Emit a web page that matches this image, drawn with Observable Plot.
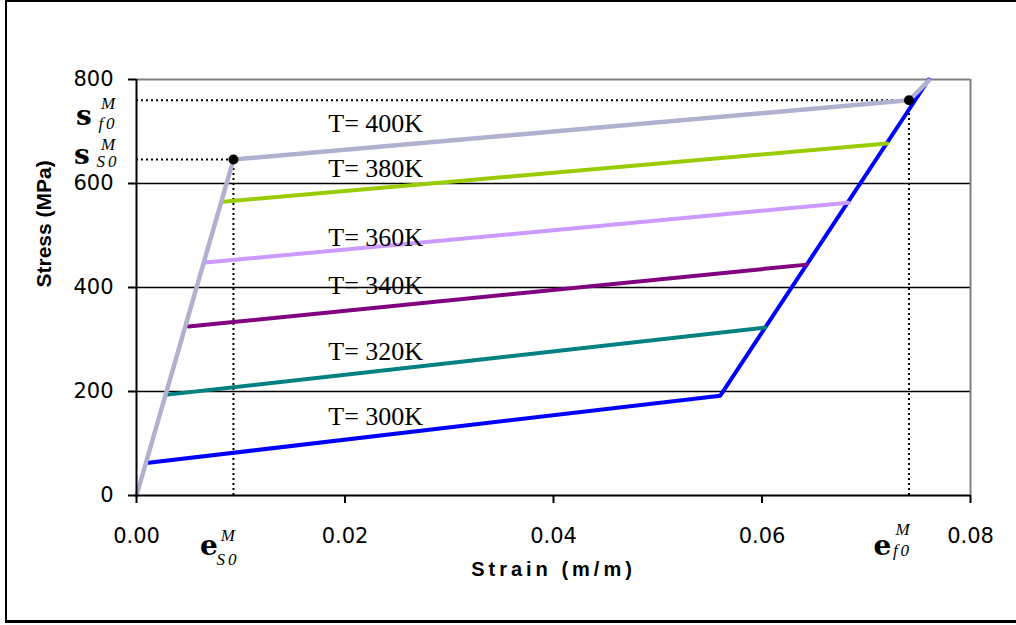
<!DOCTYPE html>
<html>
<head>
<meta charset="utf-8">
<script src="https://cdn.jsdelivr.net/npm/d3@7"></script>
<script src="https://cdn.jsdelivr.net/npm/@observablehq/plot@0.6"></script>
<style>
  html, body { margin: 0; padding: 0; background: #fff; }
  #wrap { position: relative; width: 1016px; height: 625px; overflow: hidden; }
  #frame { position: absolute; left: 5px; top: 0px; width: 1100px; height: 618px;
           border-left: 2px solid #000; border-top: 2px solid #000; border-bottom: 3px solid #000; }
  #chart { position: absolute; left: 0; top: 0; }
  .xtitle text { letter-spacing: 4px; }
  text.mbase { font-family: "DejaVu Serif", serif; font-size: 28px; font-weight: bold; }
  text.msup { font-family: "Liberation Serif", serif; font-size: 17px; font-style: italic; }
  text.msub { font-family: "Liberation Serif", serif; font-size: 17px; font-style: italic; letter-spacing: 3px; }
</style>
</head>
<body>
<div id="wrap"><div id="frame"></div><div id="chart"></div></div>
<script>
// ---- data ----
const temps = ["T= 300K", "T= 320K", "T= 340K", "T= 360K", "T= 380K", "T= 400K"];
const colors = ["#0000ff", "#008080", "#800080", "#cc99ff", "#99cc00", "#b0b0d0"];
const strain300 = [0.00115, 0.0560, 0.0760];
const stress300 = [63, 192, 800];
const strain320 = [0.00297, 0.0603];
const stress320 = [194, 323];
const strain340 = [0.00499, 0.0643];
const stress340 = [325, 444];
const strain360 = [0.00662, 0.0683];
const stress360 = [448, 563];
const strain380 = [0.00835, 0.0720];
const stress380 = [565, 677];
const strain400 = [0, 0.0093, 0.0741, 0.0760];
const stress400 = [0, 646, 760, 798];
const keyStrain = [0.0093, 0.0741];   // e_S0, e_f0
const keyStress = [646, 760];         // s_S0, s_f0
const labelStrain = 0.0184;
const labelStress = [152, 277, 404, 496, 629, 715];
const xTicks = [0, 0.02, 0.04, 0.06, 0.08];
const yTicks = [0, 200, 400, 600, 800];

const seriesStrain = [strain300, strain320, strain340, strain360, strain380, strain400];
const seriesStress = [stress300, stress320, stress340, stress360, stress380, stress400];
const rows = (i) => seriesStrain[i].map((s, j) => ({strain: s, stress: seriesStress[i][j]}));
const labels = temps.map((t, i) => ({t, strain: labelStrain, stress: labelStress[i]}));
const keys = keyStrain.map((s, i) => ({strain: s, stress: keyStress[i]}));

const line = (i, w) => Plot.line(rows(i), {x: "strain", y: "stress", stroke: colors[i], strokeWidth: w});

const plot = Plot.plot({
  width: 1016, height: 625,
  marginLeft: 136, marginRight: 46, marginTop: 79, marginBottom: 130,
  style: {color: "#000", background: "transparent", fontFamily: "DejaVu Sans"},
  x: {domain: [0, 0.08]},
  y: {domain: [0, 800]},
  marks: [
    Plot.ruleY([200, 400, 600], {stroke: "#000", strokeWidth: 1.5}),
    Plot.ruleY([800], {stroke: "#808080", strokeWidth: 2}),
    Plot.ruleX([0.08], {stroke: "#808080", strokeWidth: 2}),
    // dotted reference lines
    Plot.ruleY(keys, {y: "stress", x1: 0, x2: "strain", stroke: "#000", strokeWidth: 2, strokeDasharray: "2,3"}),
    Plot.ruleX(keys, {x: "strain", y1: 0, y2: "stress", insetBottom: -8, stroke: "#000", strokeWidth: 2, strokeDasharray: "2,3"}),
    line(0, 4), line(1, 4), line(2, 4), line(3, 4), line(4, 4), line(5, 4.5),
    Plot.dot(keys, {x: "strain", y: "stress", r: 5, fill: "#000"}),
    Plot.ruleX([0], {stroke: "#000", strokeWidth: 2}),
    Plot.ruleY([0], {stroke: "#000", strokeWidth: 2}),
    Plot.axisY({ticks: yTicks, tickSize: 8, tickPadding: 15, fontSize: 21, label: null, strokeWidth: 2}),
    Plot.axisX({ticks: xTicks, tickFormat: d3.format(".2f"), tickSize: 8, tickPadding: 25, fontSize: 21, label: null, strokeWidth: 2}),
    Plot.text(labels, {x: "strain", y: "stress", text: "t", textAnchor: "start", fontFamily: "Liberation Serif", fontSize: 26, fill: "#000"}),
    Plot.text(["Stress (MPa)"], {frameAnchor: "left", dx: -92, rotate: -90, fontFamily: "Liberation Sans", fontWeight: "bold", fontSize: 21, fill: "#000"}),
    Plot.text(["Strain (m/m)"], {frameAnchor: "bottom", dy: 80, fontFamily: "Liberation Sans", fontWeight: "bold", fontSize: 20, fill: "#000", className: "xtitle"})
  ]
});
document.getElementById("chart").appendChild(plot);

// ---- math labels positioned through the plot's scales ----
const sx = plot.scale("x"), sy = plot.scale("y");
const svg = d3.select(plot);
const g = svg.append("g").attr("fill", "#000");
function mathLabel(x0, y0, base, sup, sub, o) {
  g.append("text").attr("class", "mbase").attr("x", x0 + o.bx).attr("y", y0 + o.by).text(base);
  g.append("text").attr("class", "msup").attr("x", x0 + o.sx).attr("y", y0 + o.supy).text(sup);
  g.append("text").attr("class", "msub").attr("x", x0 + o.sx).attr("y", y0 + o.suby).text(sub);
}
const xAxis0 = sx.apply(0), yAxis0 = sy.apply(0);
// stress labels on the left
mathLabel(xAxis0, sy.apply(keyStress[1]), "s", "M", "f0", {bx: -52, by: 25, sx: -28, supy: 9, suby: 29});
mathLabel(xAxis0, sy.apply(keyStress[0]), "s", "M", "S0", {bx: -54, by: 5, sx: -28, supy: -9, suby: 8});
// strain labels below the axis
mathLabel(sx.apply(keyStrain[0]), yAxis0, "e", "M", "S0", {bx: -24, by: 60, sx: -5, supy: 46, suby: 70});
mathLabel(sx.apply(keyStrain[1]), yAxis0, "e", "M", "f0", {bx: -26, by: 60, sx: -6, supy: 40, suby: 61});
</script>
</body>
</html>
